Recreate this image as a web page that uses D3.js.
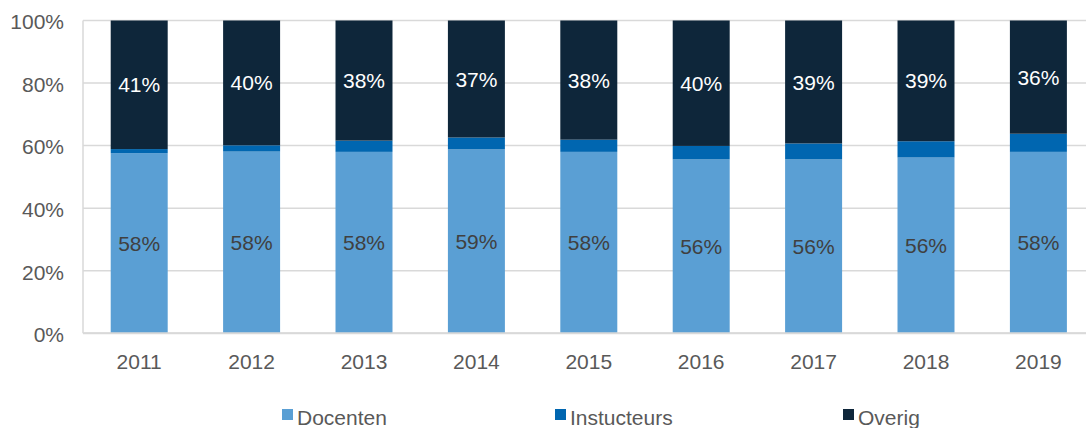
<!DOCTYPE html>
<html lang="nl">
<head>
<meta charset="utf-8">
<title>Docenten / Instructeurs / Overig</title>
<script src="https://cdn.jsdelivr.net/npm/d3@7"></script>
<style>
  body { margin: 0; background: #fff; }
  svg text { font-family: "Liberation Sans", Arial, sans-serif; }
  .grid line { stroke: #d9d9d9; stroke-width: 1.5; }
  .tick-label { fill: #595959; font-size: 21px; }
  .legend text { fill: #595959; font-size: 21px; }
</style>
</head>
<body>
<script>
// data (percent of total)
var years = ["2011", "2012", "2013", "2014", "2015", "2016", "2017", "2018", "2019"];
var docenten = [57.6, 58.1, 58.0, 58.8, 58.0, 55.6, 55.6, 56.2, 58.0];
var instructeurs = [1.3, 2.0, 3.6, 3.8, 3.9, 4.3, 5.1, 5.2, 5.8];
var overig = [41.1, 39.9, 38.4, 37.4, 38.1, 40.1, 39.3, 38.6, 36.2];
var seriesNames = ["Docenten", "Instucteurs", "Overig"];
var yTicks = [0, 20, 40, 60, 80, 100];

var colors = { "Docenten": "#5a9fd4", "Instucteurs": "#0066b0", "Overig": "#0e263a" };
var labelColors = { "Docenten": "#404040", "Overig": "#ffffff" };

var w = 1086, h = 428;
var plotLeft = 83, plotTop = 20.5, plotBottom = 333.3;
var step = 112.4;

var rows = years.map(function(y, i) {
  return { year: y, "Docenten": docenten[i], "Instucteurs": instructeurs[i], "Overig": overig[i] };
});

var stacked = d3.stack().keys(seriesNames)(rows);

var xScale = d3.scaleBand()
  .domain(years)
  .range([plotLeft, plotLeft + step * years.length])
  .paddingInner(0.493)
  .paddingOuter(0.2465);

var yScale = d3.scaleLinear()
  .domain([0, 100])
  .range([plotBottom, plotTop]);

var svg = d3.select("body").append("svg")
  .attr("width", w)
  .attr("height", h);

// gridlines
svg.append("g").attr("class", "grid")
  .selectAll("line")
  .data(yTicks)
  .enter().append("line")
  .attr("x1", plotLeft)
  .attr("x2", plotLeft + step * years.length)
  .attr("y1", function(d) { return yScale(d); })
  .attr("y2", function(d) { return yScale(d); });

// left axis line
svg.append("line")
  .attr("x1", plotLeft).attr("x2", plotLeft)
  .attr("y1", plotTop).attr("y2", plotBottom)
  .attr("stroke", "#d9d9d9").attr("stroke-width", 1.5);

// bars
var layers = svg.selectAll(".layer")
  .data(stacked)
  .enter().append("g")
  .attr("class", "layer")
  .attr("fill", function(d) { return colors[d.key]; });

layers.selectAll("rect")
  .data(function(d) { return d; })
  .enter().append("rect")
  .attr("x", function(d) { return xScale(d.data.year); })
  .attr("width", xScale.bandwidth())
  .attr("y", function(d) { return yScale(d[1]); })
  .attr("height", function(d) { return yScale(d[0]) - yScale(d[1]); });

// bottom axis line over bars
svg.append("line")
  .attr("x1", plotLeft).attr("x2", plotLeft + step * years.length)
  .attr("y1", plotBottom).attr("y2", plotBottom)
  .attr("stroke", "#d9d9d9").attr("stroke-width", 2);

// data labels (Docenten and Overig only)
stacked.filter(function(s) { return labelColors[s.key]; }).forEach(function(s) {
  svg.append("g").selectAll("text")
    .data(s)
    .enter().append("text")
    .attr("x", function(d) { return xScale(d.data.year) + xScale.bandwidth() / 2; })
    .attr("y", function(d) { return yScale((d[0] + d[1]) / 2); })
    .attr("dy", "0.36em")
    .attr("text-anchor", "middle")
    .attr("fill", labelColors[s.key])
    .style("font-size", "21px")
    .text(function(d) { return Math.round(d[1] - d[0]) + "%"; });
});

// y tick labels
svg.append("g").selectAll("text")
  .data(yTicks)
  .enter().append("text")
  .attr("class", "tick-label")
  .attr("x", 64)
  .attr("y", function(d) { return yScale(d); })
  .attr("dy", "0.42em")
  .attr("text-anchor", "end")
  .text(function(d) { return d + "%"; });

// x tick labels
svg.append("g").selectAll("text")
  .data(years)
  .enter().append("text")
  .attr("class", "tick-label")
  .attr("x", function(d) { return xScale(d) + xScale.bandwidth() / 2; })
  .attr("y", 368.5)
  .attr("text-anchor", "middle")
  .text(function(d) { return d; });

// legend
var legendX = [282, 555, 843];
var legend = svg.append("g").attr("class", "legend")
  .selectAll("g")
  .data(seriesNames)
  .enter().append("g")
  .attr("transform", function(d, i) { return "translate(" + legendX[i] + ",0)"; });

legend.append("rect")
  .attr("x", 0).attr("y", 409)
  .attr("width", 11).attr("height", 11)
  .attr("fill", function(d) { return colors[d]; });

legend.append("text")
  .attr("x", 15).attr("y", 425)
  .text(function(d) { return d; });
</script>
</body>
</html>
